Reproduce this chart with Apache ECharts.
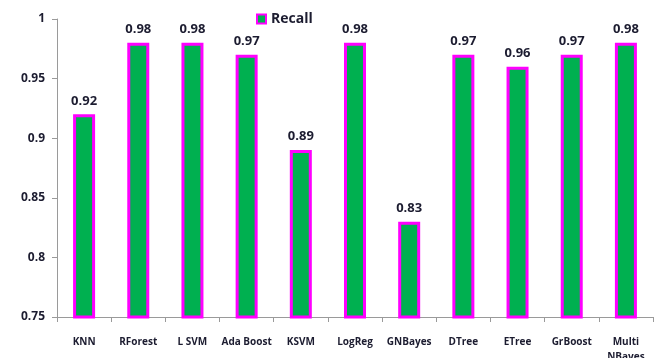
<!DOCTYPE html>
<html>
<head>
<meta charset="utf-8">
<script src="https://cdn.jsdelivr.net/npm/echarts@6/dist/echarts.min.js"></script>
<style>
  html, body { margin: 0; padding: 0; background: #ffffff; }
  #chart { width: 662px; height: 358px; }
</style>
</head>
<body>
<div id="chart"></div>
<script>
// Recall score per classifier
const categories = ['KNN', 'RForest', 'L SVM', 'Ada Boost', 'KSVM', 'LogReg', 'GNBayes', 'DTree', 'ETree', 'GrBoost', 'Multi\nNBayes'];
const recall = [0.92, 0.98, 0.98, 0.97, 0.89, 0.98, 0.83, 0.97, 0.96, 0.97, 0.98];
const yMin = 0.75, yMax = 1, yStep = 0.05;

const textColor = '#1c1c30';
const fontFamily = '"Open Sans", "Liberation Sans", sans-serif';

const chart = echarts.init(document.getElementById('chart'));
chart.setOption({
  animation: false,
  textStyle: { fontFamily: fontFamily },
  grid: { left: 57, right: 9, top: 19, bottom: 41, containLabel: false, outerBoundsMode: 'none' },
  legend: {
    top: 7, left: 251,
    itemWidth: 9, itemHeight: 9, itemGap: 5,
    textStyle: { fontSize: 14, fontWeight: 'bold', color: textColor, fontFamily: fontFamily },
    data: [{ name: 'Recall', icon: 'rect', itemStyle: { color: '#00b050', borderColor: '#ff00ff', borderWidth: 2 } }]
  },
  xAxis: {
    type: 'category',
    data: categories,
    axisLine: { lineStyle: { color: '#9a9a9a', width: 1 } },
    axisTick: { show: true, length: 5, lineStyle: { color: '#9a9a9a' } },
    axisLabel: { interval: 0, margin: 18, fontSize: 10, fontWeight: 'bold', color: textColor, lineHeight: 15 }
  },
  yAxis: {
    type: 'value',
    min: yMin, max: yMax, interval: yStep,
    splitLine: { show: false },
    axisLine: { show: true, lineStyle: { color: '#9a9a9a', width: 1 } },
    axisTick: { show: true, length: 5, lineStyle: { color: '#9a9a9a' } },
    axisLabel: {
      fontSize: 12, fontWeight: 'bold', color: textColor, margin: 12,
      formatter: v => String(parseFloat(v.toFixed(2)))
    }
  },
  series: [{
    name: 'Recall',
    type: 'bar',
    data: recall,
    barWidth: 22,
    itemStyle: { color: '#00b050', borderColor: '#ff00ff', borderWidth: 3 },
    label: {
      show: true, position: 'top', distance: 7,
      fontSize: 13, fontWeight: 'bold', color: textColor,
      formatter: p => p.value.toFixed(2)
    }
  }]
});
</script>
</body>
</html>
